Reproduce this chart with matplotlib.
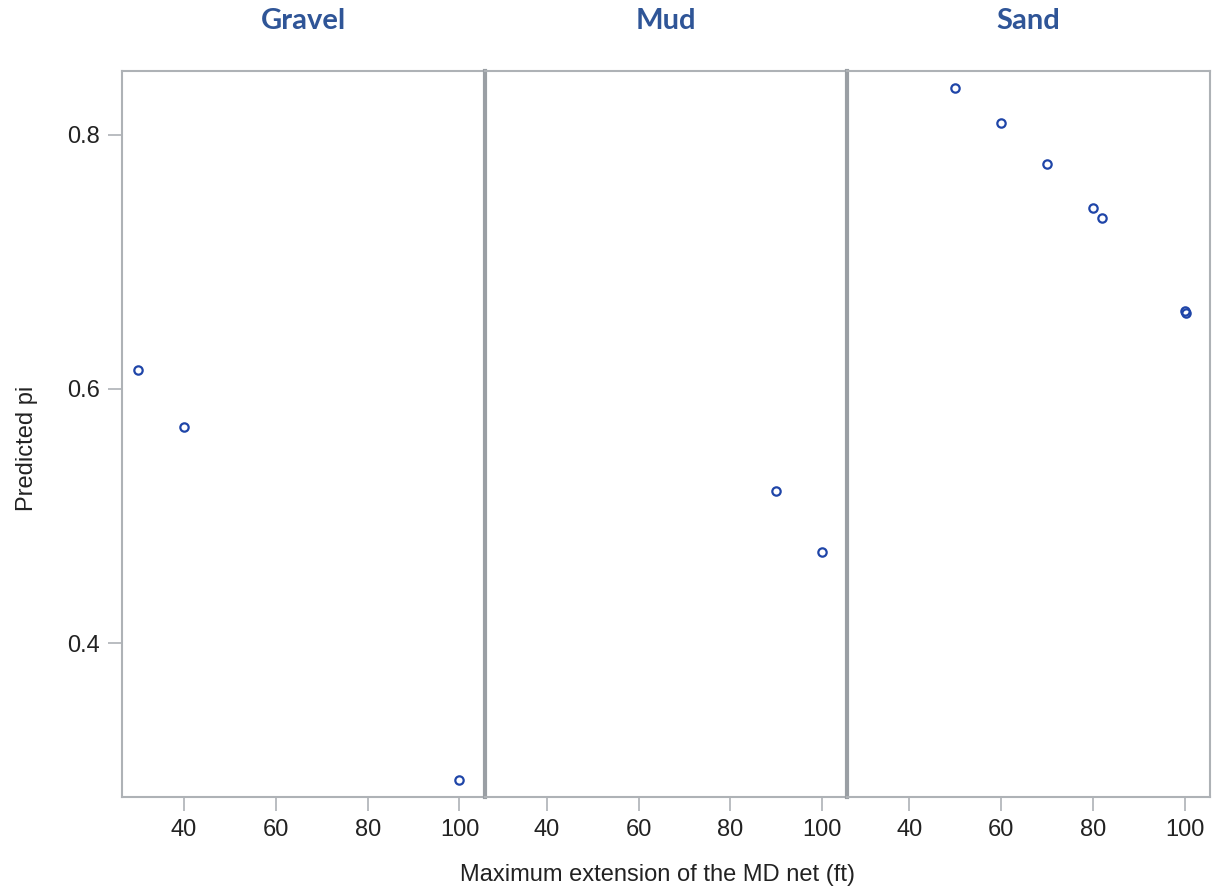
import numpy as np
import matplotlib.pyplot as plt

# ============================================================================
""" Data read off the reference chart """
panels = ["Gravel", "Mud", "Sand"]
gravel_x = [30, 40, 100]
gravel_y = [0.615, 0.570, 0.292]
mud_x = [90, 100]
mud_y = [0.520, 0.472]
sand_x = [50, 60, 70, 80, 82, 100, 100.2]
sand_y = [0.837, 0.809, 0.777, 0.742, 0.734, 0.661, 0.660]
x_ticks = [40, 60, 80, 100]
y_ticks = [0.4, 0.6, 0.8]

series = [(gravel_x, gravel_y), (mud_x, mud_y), (sand_x, sand_y)]

# ============================================================================
plt.rcParams['font.family'] = ['Liberation Sans', 'DejaVu Sans']
frame_col = '#aeb2b6'
sep_col = '#9a9fa4'
title_col = '#2f5597'
mark_col = '#1f45a8'
text_col = '#222222'

fig, axes = plt.subplots(1, 3, sharey=True, figsize=(12.23, 8.92), dpi=100)
fig.subplots_adjust(left=0.0998, right=0.9894, bottom=0.1065, top=0.9204,
                    wspace=0)

for i, ax in enumerate(axes):
    xs, ys = series[i]
    ax.plot(xs, ys, linestyle='none', marker='o', markersize=6,
            markerfacecolor='none', markeredgecolor=mark_col,
            markeredgewidth=1.6)
    ax.set_xlim(26.5, 105.5)
    ax.set_xticks(x_ticks)
    ax.tick_params(axis='x', colors=frame_col, labelcolor=text_col,
                   labelsize=17, length=10, width=1.2, pad=6)
    ax.tick_params(axis='y', colors=frame_col, labelcolor=text_col,
                   labelsize=17, length=10, width=1.2, pad=6)
    for side in ['top', 'bottom', 'left', 'right']:
        ax.spines[side].set_color(frame_col)
        ax.spines[side].set_linewidth(1.5)
    if i > 0:
        ax.spines['left'].set_color(sep_col)
        ax.spines['left'].set_linewidth(3)
        ax.tick_params(axis='y', left=False)
    if i < 2:
        ax.spines['right'].set_visible(False)
    ax.text(0.5, 1.0 + 50 / 726, panels[i], transform=ax.transAxes,
            ha='center', va='center', fontsize=21, fontweight='bold',
            color=title_col, family=['Lato', 'DejaVu Sans'])

axes[0].set_ylim(0.279, 0.850)
axes[0].set_yticks(y_ticks)
axes[0].set_yticklabels([f"{v:.1f}" for v in y_ticks])
axes[0].set_ylabel("Predicted pi", fontsize=17, color=text_col)
axes[0].yaxis.set_label_coords(-0.232, 0.48)
fig.text(0.538, 0.019, "Maximum extension of the MD net (ft)",
         ha='center', va='center', fontsize=17, color=text_col)

plt.savefig("out.png", dpi=100)
